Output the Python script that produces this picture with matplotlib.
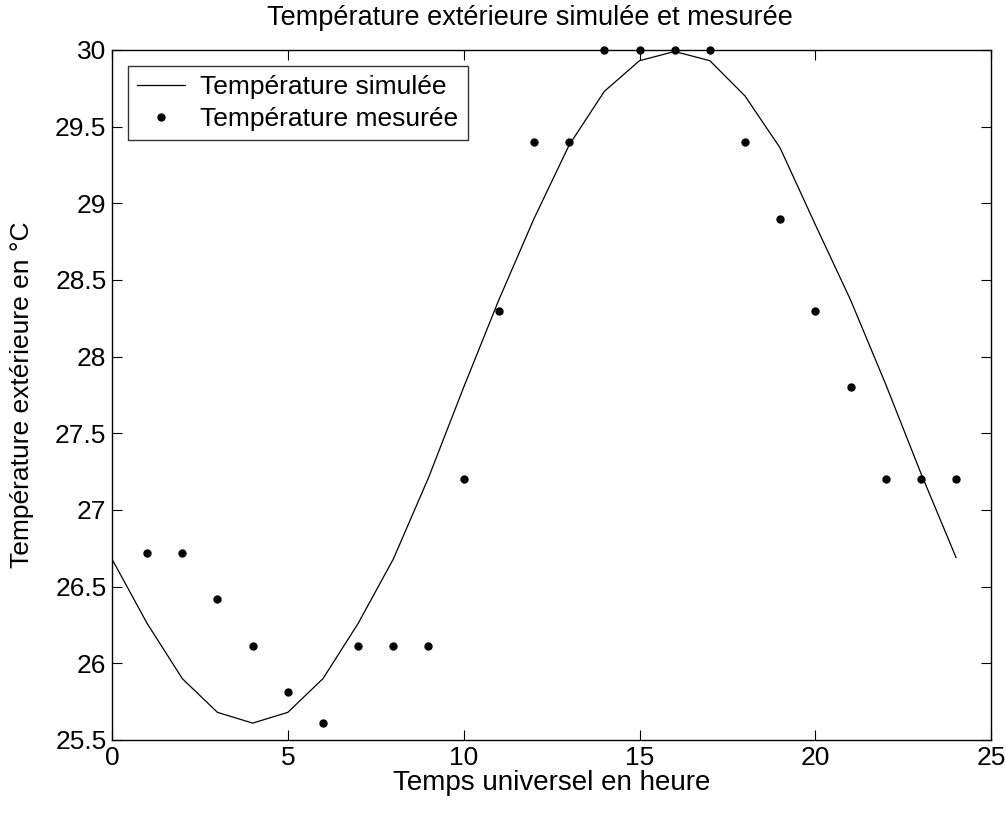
import matplotlib
matplotlib.use("Agg")
import matplotlib.pyplot as plt
from matplotlib.ticker import FuncFormatter

plt.rcParams["font.family"] = ["Liberation Sans", "DejaVu Sans"]

# hourly values
hours = list(range(0, 25))
temp_simulee = [26.68, 26.26, 25.90, 25.68, 25.61, 25.68, 25.90, 26.26, 26.68,
                27.21, 27.80, 28.37, 28.90, 29.38, 29.73, 29.93, 29.99, 29.93,
                29.70, 29.36, 28.86, 28.37, 27.82, 27.24, 26.69]

hours_mes = list(range(1, 25))
temp_mesuree = [26.72, 26.72, 26.42, 26.11, 25.81, 25.61, 26.11, 26.11, 26.11,
                27.20, 28.30, 29.40, 29.40, 30.00, 30.00, 30.00, 30.00, 29.40,
                28.90, 28.30, 27.80, 27.20, 27.20, 27.20]

fig = plt.figure(figsize=(10.06, 8.19), dpi=100)
ax = fig.add_axes([0.1113, 0.0965, 0.874, 0.8425])

ax.plot(hours, temp_simulee, color="black", lw=0.9, label="Température simulée")
ax.plot(hours_mes, temp_mesuree, linestyle="none", marker="o", ms=5,
        color="black", label="Température mesurée", clip_on=False)

ax.set_xlim(0, 25)
ax.set_ylim(25.5, 30)
ax.set_xticks(range(0, 26, 5))
ax.set_yticks([25.5 + 0.5 * i for i in range(10)])
ax.yaxis.set_major_formatter(FuncFormatter(lambda v, p: f"{v:g}"))
ax.tick_params(direction="in", length=7, width=0.8, labelsize=19,
               top=True, right=True, pad=4)
for s in ax.spines.values():
    s.set_linewidth(1.0)

ax.set_title("Température extérieure simulée et mesurée", fontsize=19.5, pad=18,
             x=0.475)
ax.set_xlabel("Temps universel en heure", fontsize=20, labelpad=0)
ax.set_ylabel("Température extérieure en °C", fontsize=19, labelpad=15)

leg = ax.legend(loc="upper left", fontsize=19, frameon=True, fancybox=False,
                edgecolor="black", handlelength=1.8, handletextpad=0.6,
                borderpad=0.35, labelspacing=0.3, borderaxespad=0.6)
leg.get_frame().set_linewidth(1.0)

fig.savefig("out.png", dpi=100)
